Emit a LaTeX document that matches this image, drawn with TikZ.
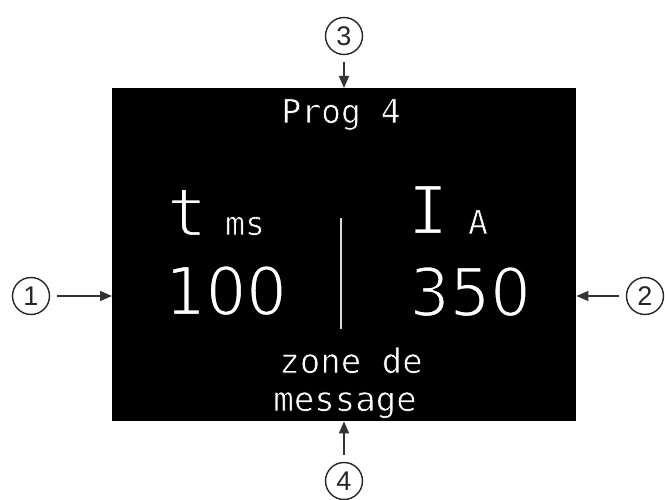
\documentclass[tikz,border=0pt]{standalone}
\usepackage{fontspec}
\setmainfont{Liberation Sans}
\newfontfamily\lcdfont{DejaVu Sans Mono}
\newfontfamily\lcddigits[FakeStretch=0.95]{DejaVu Sans}
\usetikzlibrary{arrows.meta}
\newcommand\thinglyph[1]{\special{pdf:literal direct 2 Tr #1 w 0 0 0 RG}}
\tikzset{
  screenbox/.style={fill=black, draw=none, inner sep=0pt, minimum width=464pt, minimum height=333pt, anchor=north west},
  lcdtext/.style={text=white, inner sep=0pt, anchor=base},
  lcdsmall/.style={lcdtext, font=\lcdfont\fontsize{33}{38}\selectfont},
  lcdbig/.style={lcdtext, font=\lcdfont\fontsize{67}{70}\selectfont},
  lcdnum/.style={lcdtext, font=\lcddigits\fontsize{67}{70}\selectfont},
  numcircle/.style={circle, draw=black!85, line width=1.4pt, minimum size=37pt, inner sep=0pt, font=\fontsize{27}{27}\selectfont, text=black!85},
  callout/.style={draw=black!80, line width=1.4pt, -{Triangle[length=12pt,width=10pt]}, shorten <=7pt},
  divider/.style={draw=white!85!black, line width=1.6pt}
}
\begin{document}
\begin{tikzpicture}[x=1pt,y=-1pt]
\useasboundingbox (0,0) rectangle (665,500);
\node[screenbox] (screen) at (112,88) {};
\node[lcdsmall] (prog) at (341,123) {\thinglyph{0.6}Prog 4};
\node[lcdbig] (t) at (187,236) {\thinglyph{2}t};
\node[lcdsmall] (ms) at (245,235) {\thinglyph{0.6}ms};
\node[lcdbig] (I) at (428,234) {\thinglyph{2}I};
\node[lcdsmall] (A) at (478,234) {\thinglyph{0.6}A};
\node[lcdnum] (v100) at (226,315) {\thinglyph{2}100};
\node[lcdnum] (v350) at (470,316) {\thinglyph{2}350};
\node[lcdsmall, font=\lcdfont\fontsize{34}{38}\selectfont] (zone) at (351,373) {\thinglyph{0.6}zone de};
\node[lcdsmall, font=\lcdfont\fontsize{34}{38}\selectfont] (msg) at (345,411) {\thinglyph{0.6}message};
\coordinate (dtop) at (341,218);
\coordinate (dbot) at (341,329);
\draw[divider] (dtop) -- (dbot);
\node[numcircle] (n1) at (31,296) {1};
\node[numcircle] (n2) at (645,296) {2};
\node[numcircle] (n3) at (344,36) {3};
\node[numcircle] (n4) at (344,481) {4};
\draw[callout] (n1) -- (n1 -| screen.west);
\draw[callout] (n2) -- (n2 -| screen.east);
\draw[callout] (n3) -- (n3 |- screen.north);
\draw[callout] (n4) -- (n4 |- screen.south);
\end{tikzpicture}
\end{document}
